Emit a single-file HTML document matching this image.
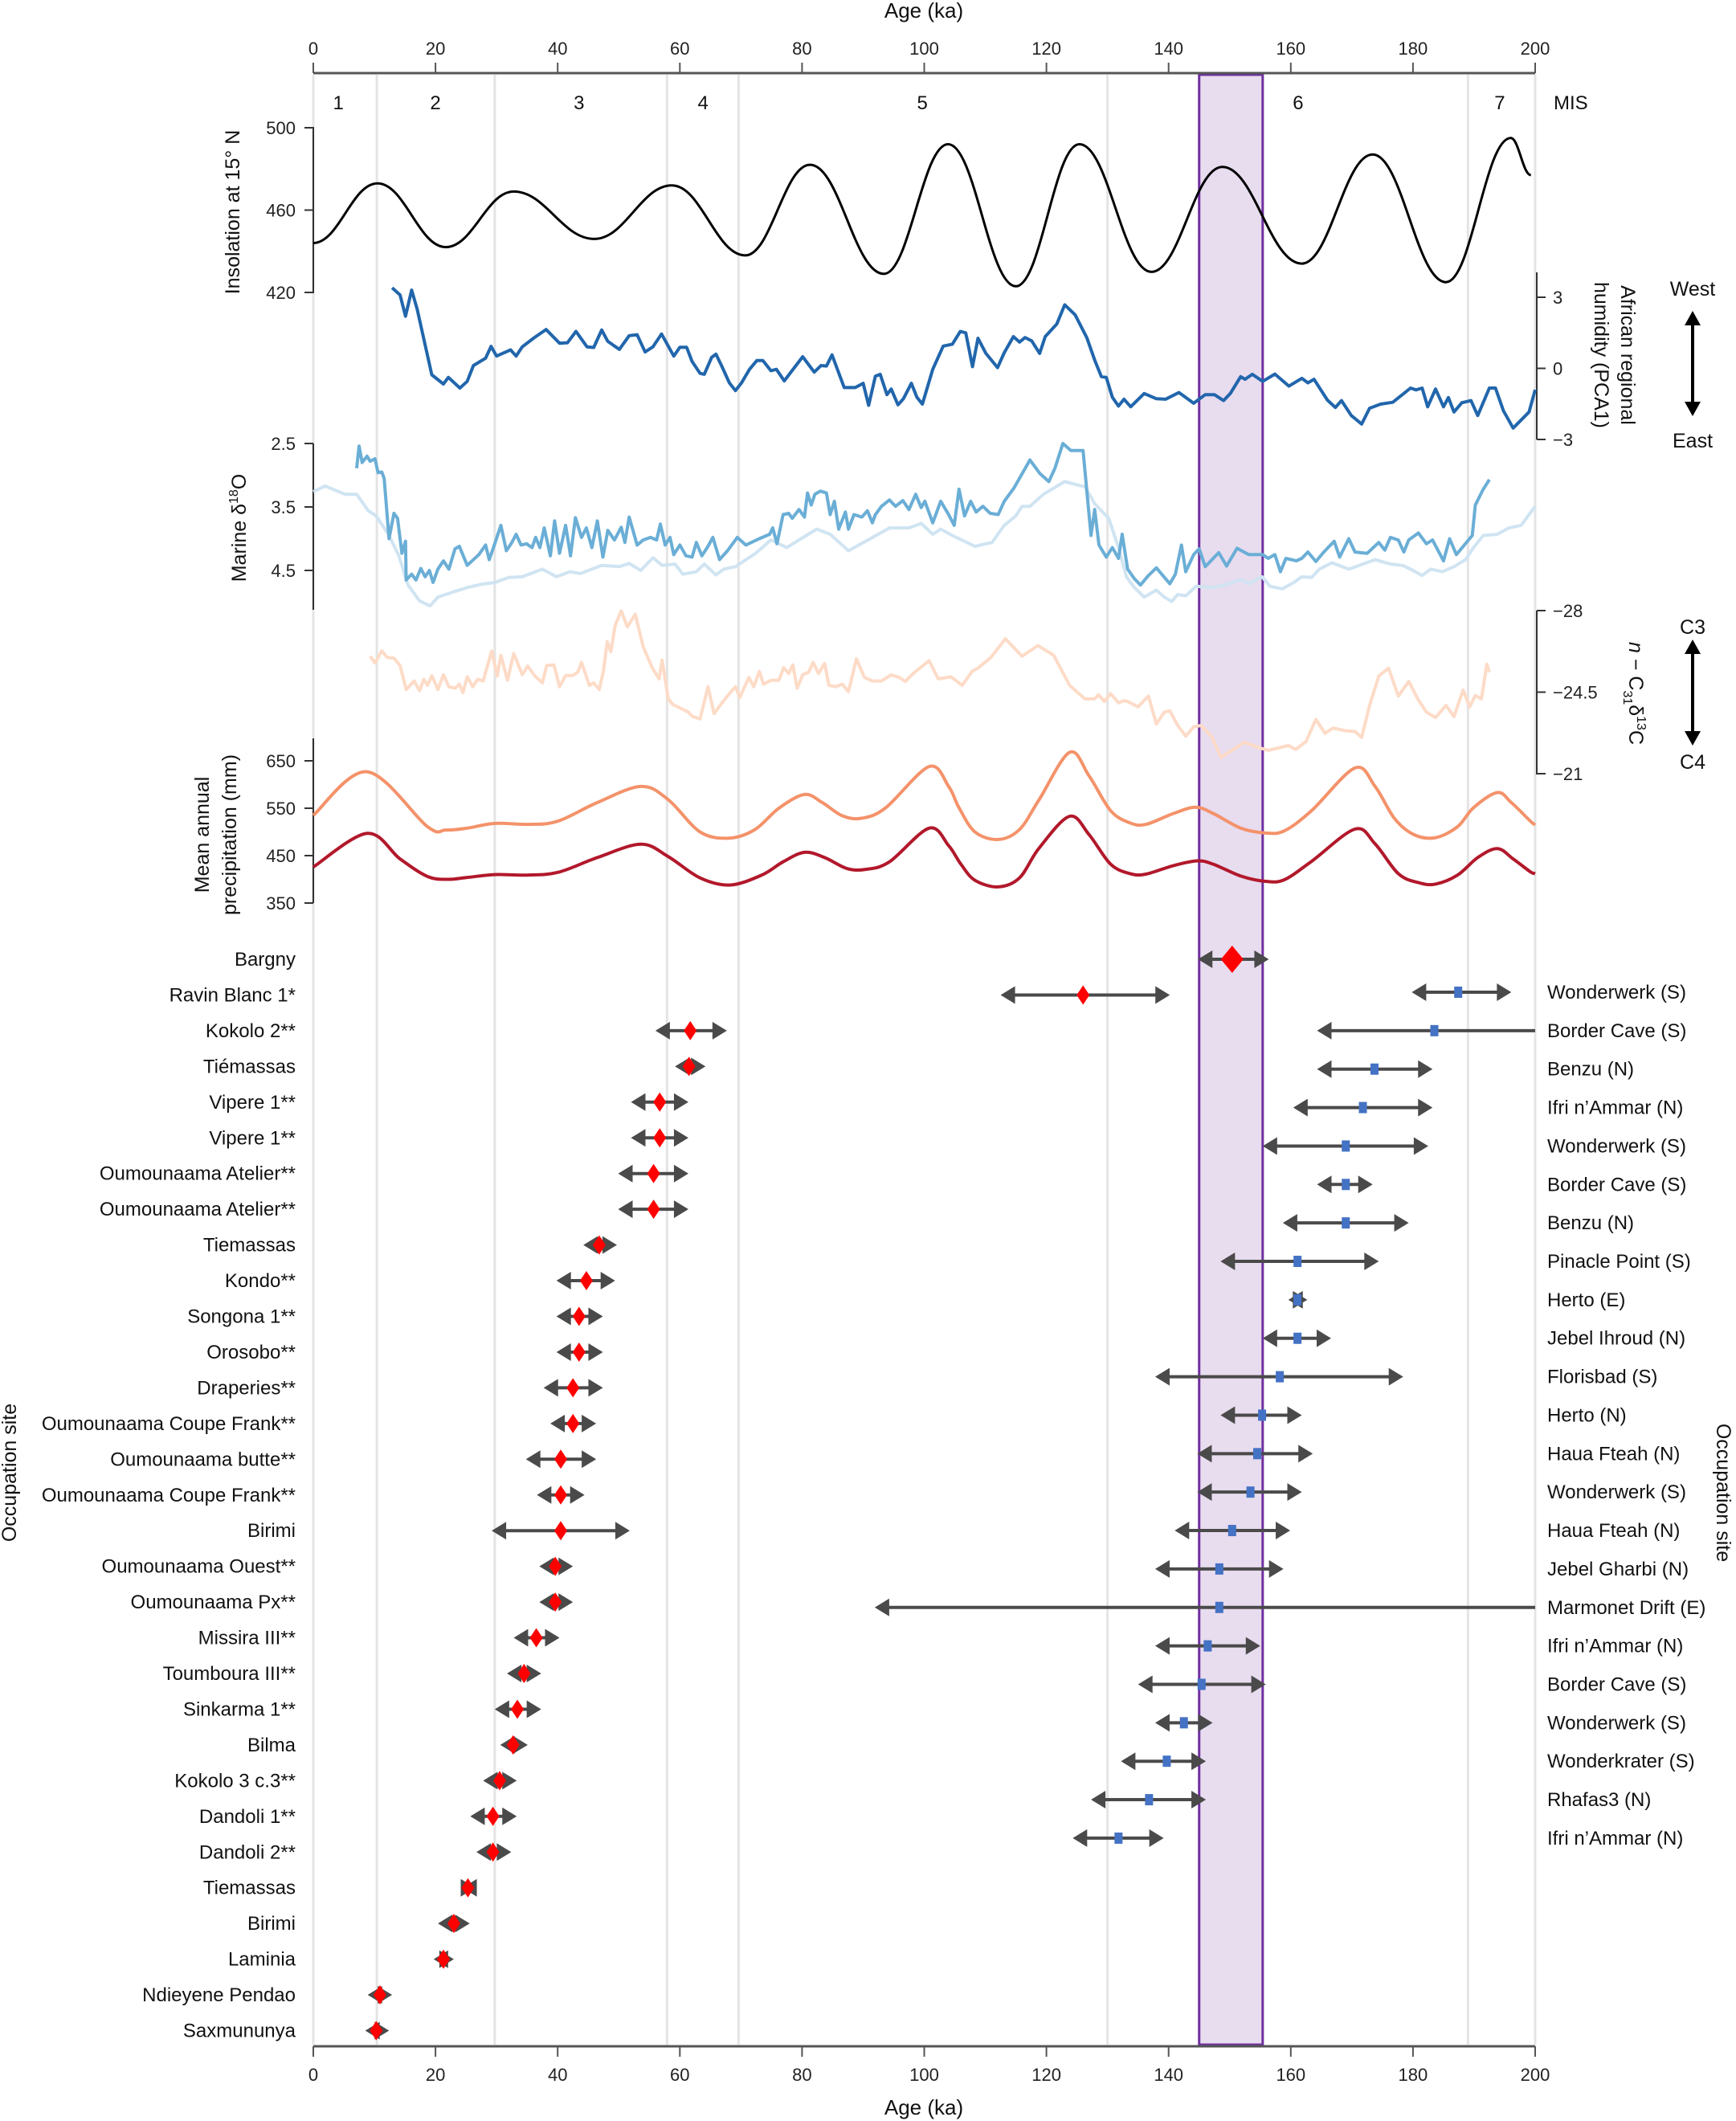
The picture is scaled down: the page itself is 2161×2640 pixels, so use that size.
<!DOCTYPE html>
<html><head><meta charset="utf-8">
<style>
html,body{margin:0;padding:0;background:#fff;}
svg{display:block;font-family:"Liberation Sans",sans-serif;}
.tk{font-size:22px;fill:#222;}
.lab{font-size:24px;fill:#111;}
</style></head>
<body>
<svg id="chart" width="2161" height="2640" viewBox="0 0 2161 2640" xmlns="http://www.w3.org/2000/svg">
<g id="grid"></g>
<rect x="0" y="0" width="0" height="0" id="band" fill="#e8dcef" stroke="#7030a0" stroke-width="3"/>
<g id="axes"></g>
<g id="series"></g>
<g id="sites"></g>
<g id="texts">
<text x="1150" y="22" text-anchor="middle" font-size="26" fill="#111">Age (ka)</text>
<text x="1150" y="2632" text-anchor="middle" font-size="26" fill="#111">Age (ka)</text>
<text transform="translate(298,264) rotate(-90)" text-anchor="middle" font-size="25" fill="#111">Insolation at 15° N</text>
<text transform="translate(306,657) rotate(-90)" text-anchor="middle" font-size="25" fill="#111">Marine δ<tspan font-size="16" dy="-10">18</tspan><tspan dy="10">O</tspan></text>
<text transform="translate(260,1039) rotate(-90)" text-anchor="middle" font-size="25" fill="#111">Mean annual</text>
<text transform="translate(294,1039) rotate(-90)" text-anchor="middle" font-size="25" fill="#111">precipitation (mm)</text>
<text transform="translate(2018,442) rotate(90)" text-anchor="middle" font-size="25" fill="#111">African regional</text>
<text transform="translate(1985,442) rotate(90)" text-anchor="middle" font-size="25" fill="#111">humidity (PCA1)</text>
<text transform="translate(2028,863) rotate(90)" text-anchor="middle" font-size="25" fill="#111"><tspan font-style="italic">n</tspan> − C<tspan font-size="16" dy="7">31</tspan><tspan dy="-7">δ</tspan><tspan font-size="16" dy="-10">13</tspan><tspan dy="10">C</tspan></text>
<text transform="translate(20,1833) rotate(-90)" text-anchor="middle" font-size="25" fill="#111">Occupation site</text>
<text transform="translate(2137,1858) rotate(90)" text-anchor="middle" font-size="25" fill="#111">Occupation site</text>
<text x="2107" y="368" text-anchor="middle" font-size="25" fill="#111">West</text>
<text x="2107" y="557" text-anchor="middle" font-size="25" fill="#111">East</text>
<text x="2107" y="789" text-anchor="middle" font-size="25" fill="#111">C3</text>
<text x="2107" y="957" text-anchor="middle" font-size="25" fill="#111">C4</text>
<g fill="#000" stroke="#000">
<line x1="2107" y1="400" x2="2107" y2="506" stroke-width="4"/>
<polygon points="2107,387 2097,405 2117,405" stroke="none"/>
<polygon points="2107,518 2097,500 2117,500" stroke="none"/>
</g>
<g fill="#000" stroke="#000">
<line x1="2107" y1="808" x2="2107" y2="916" stroke-width="4"/>
<polygon points="2107,796 2097,814 2117,814" stroke="none"/>
<polygon points="2107,928 2097,910 2117,910" stroke="none"/>
</g>
</g>
</svg>
<script>
// ---------- data ----------
const misBounds=[10.4,29.7,57.9,69.6,130,189];
const misLabels=["1","2","3","4","5","6","7"];
const misLabelAges=[4.1,20,43.5,63.8,99.7,161.2,194.2];
const bandRange=[145,155.4];
const xTicks=[0,20,40,60,80,100,120,140,160,180,200];
const insolTicks=[500,460,420];
const humTicks=[3,0,-3];
const marineTicks=[2.5,3.5,4.5];
const c13Ticks=[-28,-24.5,-21];
const precipTicks=[650,550,450,350];

const insolAge=[0,10.5,21.7,32.8,46,58.7,70.7,81.3,93.4,103.9,115,125.4,137.2,148.8,161.8,173.4,185.4,196,199.3];
const insolVal=[444,473,442,469,446,472,438,482,429,492,423,492,430,481,434,487,425,495,477];

const humAge=[12.9,14.2,15.1,16.1,17,19.4,21.3,22.1,24,25.2,26.2,28.2,29.1,30,32.3,33.2,34.2,36.2,38.1,40.3,41.6,43,44.8,45.9,47.2,48.2,50.1,51.7,53,54.3,55.6,57,59,60,61.1,62,63.3,64,65.2,65.9,66.9,68.1,69.1,70.1,71.4,72.6,73.6,74.9,75.8,77.1,80.1,82,83.1,84,84.9,86.9,88.7,90,90.9,92,92.8,93.9,94.6,95.7,96.6,97.9,98.8,99.7,101.4,103.1,104.6,105.9,106.8,107.9,108.8,110.1,112,113.1,114.6,115.6,116.5,117.6,118.9,119.8,121.7,123,124.7,126.6,127.9,129,129.8,130.8,131.8,132.7,133.8,136,138,139.5,141.7,144.1,146,147.5,149,150.1,151.8,152.5,153.7,155.4,157.4,159.7,161.8,162.8,163.8,166,167.3,168.3,169.9,171.6,172.9,174.7,176.7,179.6,180.5,181.5,182.4,183.7,185,185.8,186.7,188,189.5,190.6,192.5,193.5,194.8,196.4,199,200];
const humVal=[3.4,3.1,2.2,3.3,2.5,-0.27,-0.66,-0.38,-0.83,-0.55,0.12,0.43,0.93,0.52,0.78,0.52,0.91,1.3,1.64,1.06,1.08,1.56,0.91,0.88,1.62,1.14,0.8,1.38,1.42,0.69,0.91,1.45,0.52,0.89,0.89,0.29,-0.21,-0.25,0.46,0.6,0.07,-0.61,-0.94,-0.61,-0.04,0.33,0.33,-0.1,-0.04,-0.53,0.49,-0.16,0.12,0.1,0.57,-0.81,-0.81,-0.63,-1.56,-0.33,-0.25,-1.11,-0.87,-1.54,-1.28,-0.63,-1.22,-1.51,-0.04,0.94,1.02,1.56,1.5,0.07,1.27,0.63,0.03,0.66,1.34,1.11,1.3,1.16,0.63,1.34,1.87,2.68,2.26,1.3,0.35,-0.35,-0.38,-1.22,-1.59,-1.3,-1.62,-1.06,-1.28,-1.3,-1.02,-1.47,-1.11,-1.11,-1.36,-1.06,-0.35,-0.46,-0.25,-0.55,-0.24,-0.75,-0.42,-0.61,-0.46,-1.34,-1.65,-1.36,-1.99,-2.35,-1.68,-1.51,-1.43,-0.83,-0.91,-0.83,-1.62,-0.87,-1.62,-1.23,-1.84,-1.45,-1.36,-1.99,-0.83,-0.83,-1.79,-2.52,-1.84,-0.9];

const marAge=[7.1,7.5,8,8.8,9.3,10.1,10.6,11.2,11.6,12.4,13.2,13.8,14.5,15.1,15.2,16.1,16.8,17.6,18.3,19,19.6,20.4,21.3,22.2,23.2,23.9,25.2,27.1,28.2,28.8,29.7,30.7,31.6,32.5,33.2,34,34.9,35.8,36.4,37.1,37.8,38.8,39.5,40.3,41.3,42.1,42.9,43.9,44.7,45.6,46.5,47.4,48.2,49.3,50.4,51,51.7,53,54,55.2,56.2,56.8,57.6,58.4,59,60,61,62,62.7,63.6,64.6,65.4,66.5,67.8,69.4,70.8,73,74.7,75.2,75.9,76.9,77.8,78.4,79.5,80.4,80.9,81.5,82.1,83,84,84.6,85.3,86,87.1,87.6,88.5,89.8,90.7,91.5,92,93,94.3,95.3,96.5,97.5,98.6,99.5,100.1,101.4,102.7,104,104.9,105.7,106.6,107.6,108.5,109.6,110.8,112.1,113.1,114.7,117.3,118.9,120.4,121.4,122.7,124,126,127.3,127.9,128.6,129.8,130.8,131.8,132.4,133.3,134.4,135.4,136.7,138,140.2,141.1,142.1,142.8,144.1,145,146,148.2,149.5,151.2,153.1,155.4,156.3,157.4,158.3,159.2,160.9,161.8,162.8,164.1,165.4,167.1,168,169.5,170.5,172.5,174.4,175.4,176.3,177.6,178.5,179.3,180.9,182.2,183.2,185,186,187.1,189.7,190.2,191.5,192.5];
const marVal=[2.89,2.54,2.8,2.7,2.78,2.74,2.96,2.95,3.05,4.0,3.6,3.68,4.23,4.04,4.65,4.56,4.65,4.47,4.6,4.5,4.69,4.48,4.35,4.48,4.16,4.12,4.42,4.25,4.1,4.33,4.08,3.79,4.19,4.06,3.93,4.1,4.08,4.14,3.98,4.14,3.83,4.27,3.72,4.23,3.79,4.27,3.67,3.98,3.83,4.14,3.72,4.29,3.87,4.02,3.82,4.06,3.66,4.1,4.02,3.98,4.02,3.77,4.1,3.98,4.25,4.1,4.27,4.29,4.06,4.27,4.12,3.98,4.33,4.19,3.98,4.1,4.0,3.93,3.83,4.08,3.62,3.6,3.68,3.54,3.66,3.28,3.47,3.3,3.25,3.28,3.62,3.41,3.85,3.58,3.85,3.62,3.66,3.56,3.75,3.62,3.49,3.39,3.49,3.4,3.54,3.3,3.51,3.41,3.75,3.41,3.62,3.79,3.22,3.64,3.41,3.58,3.49,3.6,3.62,3.41,3.2,2.76,2.97,3.1,2.89,2.5,2.61,2.61,3.95,3.54,4.1,4.29,4.14,4.31,3.93,4.48,4.63,4.73,4.58,4.46,4.71,4.56,4.1,4.52,4.25,4.16,4.44,4.22,4.43,4.15,4.25,4.25,4.31,4.25,4.52,4.31,4.35,4.31,4.21,4.36,4.21,4.04,4.29,4.0,4.21,4.23,4.06,4.18,3.98,4.02,4.21,4.02,3.91,4.08,4.02,4.35,4.0,4.25,3.95,3.47,3.22,3.07];

const marSmAge=[0,1.9,5.2,7.1,9,10.3,12.3,14,15.5,17.4,19.1,20.4,22.6,25.2,27.4,29.7,32,34.2,37.5,39.8,42,43.7,47.2,50.1,51.7,53.6,55.6,57.1,59.2,60.5,62.7,64,65.9,67.2,69.1,72.4,74.9,77.5,79.5,82.4,84.6,87.6,90.4,94.3,97.5,99.5,101.4,102.7,104.6,108.3,111.1,113.1,115,116,117.3,119.5,123,125.3,126.3,127.9,130.2,131.8,133.1,134.4,136,138,139.3,140.5,141.5,142.8,144.5,147.3,149.2,151.8,153.1,155.3,156.6,158.6,160.5,161.8,163.4,164.7,166.7,169.5,171.8,173.8,176.3,178.3,179.6,181.5,182.9,184.8,186.7,188.6,189.9,191.5,193.8,195.7,197.7,200];
const marSmVal=[3.26,3.17,3.3,3.3,3.56,3.64,3.93,4.27,4.73,4.98,5.06,4.92,4.85,4.77,4.72,4.69,4.61,4.6,4.48,4.6,4.52,4.55,4.42,4.44,4.39,4.5,4.3,4.42,4.4,4.56,4.52,4.4,4.57,4.48,4.44,4.23,4.02,4.14,4.02,3.85,3.93,4.19,4.04,3.83,3.83,3.76,3.93,3.85,3.95,4.12,4.06,3.79,3.64,3.49,3.49,3.3,3.1,3.16,3.18,3.45,3.68,4.14,4.6,4.77,4.92,4.81,4.92,4.99,4.88,4.9,4.75,4.77,4.73,4.64,4.71,4.6,4.75,4.79,4.69,4.6,4.61,4.48,4.38,4.48,4.4,4.33,4.4,4.42,4.48,4.58,4.48,4.52,4.44,4.33,4.14,3.95,3.93,3.83,3.79,3.49];

const c13Age=[9.3,10.1,11.2,12.1,13.2,14.2,15.2,16.5,17.4,18.1,18.7,19.4,20.4,21.3,22.2,23.2,23.9,24.5,25.2,26.1,26.9,27.8,29.2,30.1,30.7,31.8,32.8,34.2,35.1,36.2,37.5,38.2,39.4,40.3,41.3,42.4,43.3,43.9,45.2,45.9,46.8,47.5,48.1,48.7,49.4,50.4,51.4,52.7,54,55.5,56.6,57.1,58.1,58.8,60.1,61.4,62,63.3,64.6,65.6,66.9,68.5,69.1,69.8,71.3,72.1,73,73.7,74.9,76.2,77,77.8,78.5,79.2,80.1,81.1,81.8,82.7,83.7,84.4,85.5,86.6,87.6,88.9,90.2,91.5,93,94.6,95.9,96.9,98.2,100.8,102.3,104.4,106.2,107.9,108.8,110.9,113.3,116,118.6,121.2,123.8,126.3,127.9,128.5,129.5,130.5,131.8,132.7,133.3,135,136.7,138,139.3,140.2,141.5,142.8,144.1,145.3,147,148.6,152.4,154.4,156.3,159.6,160.8,162.5,164.1,165.6,166.9,169,170.5,171.6,172.9,174.4,176,177.6,179.3,180.9,182.2,183.7,185.4,186.7,188.2,189.3,190.2,191.2,192.1,192.5];
const c13Val=[-26.04,-25.76,-26.27,-25.99,-25.96,-25.64,-24.61,-24.98,-24.56,-25.05,-24.79,-25.21,-24.61,-25.25,-24.73,-24.67,-24.84,-24.48,-25.16,-24.73,-25.05,-24.98,-26.27,-25.19,-26.08,-25.01,-26.16,-25.25,-25.62,-25.21,-24.9,-25.64,-25.67,-24.73,-25.21,-25.21,-25.36,-25.78,-24.79,-24.9,-24.61,-25.41,-26.67,-26.24,-27.36,-27.99,-27.3,-27.84,-26.44,-25.53,-25.07,-25.87,-24.21,-23.98,-23.81,-23.64,-23.47,-23.35,-24.73,-23.58,-24.04,-24.56,-24.73,-24.27,-25.13,-24.73,-25.39,-24.84,-25.01,-25.01,-25.55,-25.3,-25.67,-24.67,-25.24,-25.36,-25.78,-25.3,-25.73,-24.79,-24.73,-24.84,-24.52,-25.93,-25.13,-24.98,-24.98,-25.24,-25.13,-24.96,-25.3,-25.85,-25.07,-25.16,-24.79,-25.41,-25.53,-25.99,-26.79,-26.04,-26.5,-26.08,-24.79,-24.21,-24.21,-24.39,-24.1,-24.44,-24.04,-24.13,-24.1,-23.87,-24.33,-23.13,-23.64,-23.7,-23.07,-22.61,-23.01,-23.07,-22.61,-21.7,-22.35,-22.15,-22.0,-22.21,-22.04,-22.38,-23.33,-22.73,-22.96,-22.84,-22.81,-22.56,-23.93,-25.19,-25.53,-24.33,-24.96,-24.16,-23.64,-23.41,-23.93,-23.45,-24.59,-23.87,-24.36,-24.21,-25.7,-25.36];

const precAAge=[0,8.8,18.7,21.7,25.2,29.7,35.5,40.1,46.5,53.6,58.1,63.3,68.1,72.3,76.2,80.4,83.3,86.6,89.8,93.7,100.8,104,105.7,108.3,112.1,115.6,118.8,123.8,127,130.5,133.7,136.3,140.8,144.4,147.3,151.8,155.7,158.9,163.4,170.5,173.8,177,180.2,183.7,187.3,189.9,193.8,196.1,199.2,200];
const precAVal=[535,627,511,504,508,518,516,523,562,596,568,500,487,505,550,579,562,534,529,551,638,596,551,500,484,505,568,668,618,545,519,516,539,552,539,508,498,502,545,635,596,528,494,488,511,551,583,562,523,515];
const precBAge=[0,8.8,14.2,18.7,22,25.2,29.7,34.9,40.1,46.5,53.6,58.1,63.3,68.2,73.4,76.9,80.4,83.7,87.3,90.4,94.3,100.8,104,106,108.3,112.1,115.6,118.8,123.8,127,130.5,133.7,136.3,140.8,144.7,147.3,151.8,155.7,158.9,163.4,170.5,173.8,177.6,180.9,183.7,187.3,190.6,193.8,196.4,199.2,200];
const precBVal=[426,497,443,406,400,404,410,409,415,446,474,448,403,388,409,437,457,446,423,421,437,508,471,432,398,384,403,466,533,494,432,412,411,429,439,432,407,396,399,438,506,475,412,393,390,409,446,465,443,416,412];

const leftNames=["Bargny","Ravin Blanc 1*","Kokolo 2**","Tiémassas","Vipere 1**","Vipere 1**","Oumounaama Atelier**","Oumounaama Atelier**","Tiemassas","Kondo**","Songona 1**","Orosobo**","Draperies**","Oumounaama Coupe Frank**","Oumounaama butte**","Oumounaama Coupe Frank**","Birimi","Oumounaama Ouest**","Oumounaama Px**","Missira III**","Toumboura III**","Sinkarma 1**","Bilma","Kokolo 3 c.3**","Dandoli 1**","Dandoli 2**","Tiemassas","Birimi","Laminia","Ndieyene Pendao","Saxmununya"];
const leftAge=[150.4,126,61.7,61.5,56.7,56.7,55.7,55.7,46.8,44.7,43.5,43.5,42.5,42.5,40.5,40.5,40.5,39.6,39.6,36.5,34.5,33.4,32.7,30.5,29.4,29.4,25.3,23,21.3,10.9,10.3];
const leftLo=[144.8,112.5,56,59.2,52,52,49.9,49.9,44.2,39.8,39.8,39.8,37.7,38.8,34.8,36.6,29.2,37,37,32.8,31.7,29.7,30.6,27.8,25.7,26.7,24.4,20.4,19.7,8.9,8.5];
const leftHi=[156.4,140.2,67.7,64.2,61.4,61.4,61.4,61.4,49.7,49.4,47.4,47.4,47.4,46.3,46.3,44.4,51.8,42.5,42.5,40.3,37.3,37.3,35.1,33.3,33.3,32.4,26.5,25.6,23,12.9,12.4];

const rightNames=["Wonderwerk (S)","Border Cave (S)","Benzu (N)","Ifri n’Ammar (N)","Wonderwerk (S)","Border Cave (S)","Benzu (N)","Pinacle Point (S)","Herto (E)","Jebel Ihroud (N)","Florisbad (S)","Herto (N)","Haua Fteah (N)","Wonderwerk (S)","Haua Fteah (N)","Jebel Gharbi (N)","Marmonet Drift (E)","Ifri n’Ammar (N)","Border Cave (S)","Wonderwerk (S)","Wonderkrater (S)","Rhafas3 (N)","Ifri n’Ammar (N)"];
const rightAge=[187.4,183.5,173.7,171.8,169,169,169,161.1,161.1,161.1,158.2,155.3,154.5,153.4,150.4,148.3,148.3,146.4,145.4,142.5,139.7,136.8,131.8];
const rightLo=[179.8,164.3,164.3,160.4,155.4,164.3,158.7,148.5,159.6,155.4,137.8,148.5,144.7,144.7,141,137.8,91.9,137.8,135,137.8,132.2,127.3,124.3];
const rightHi=[196.1,220,183.2,183.2,182.5,173.4,179.3,174.4,162.7,166.6,178.4,161.8,163.6,161.8,159.9,158.8,220,155,155.9,147.2,146.1,146.1,139.2];

// ---------- scales ----------
const X0=390,X1=1911;
const x=a=>X0+(a/200)*(X1-X0);
const lin=(d0,d1,r0,r1)=>v=>r0+(v-d0)/(d1-d0)*(r1-r0);
const yIns=lin(500,420,159,364);
const yHum=lin(3,-3,370,547);
const yMar=lin(2.5,4.5,552,710);
const yC13=lin(-28,-21,760,963);
const yPre=lin(650,350,947,1124);
const TOP=91,BOT=2547;
const NS="http://www.w3.org/2000/svg";
function mk(tag,attrs,parent){const e=document.createElementNS(NS,tag);for(const k in attrs)e.setAttribute(k,attrs[k]);parent.appendChild(e);return e;}
const G=id=>document.getElementById(id);

// grid
const grid=G('grid');
misBounds.forEach(a=>{
  const l=mk('line',{x1:x(a),x2:x(a),y1:TOP+2,y2:BOT-2,stroke:'#e4e4e4','stroke-width':3},grid);
  
  
});
[0,200].forEach(a=>{
  const l=mk('line',{x1:x(a),x2:x(a),y1:TOP+2,y2:BOT-2,stroke:'#e4e4e4','stroke-width':3},grid);
  
  
});
const band=G('band');
band.setAttribute('x',x(bandRange[0]));band.setAttribute('width',x(bandRange[1])-x(bandRange[0]));
band.setAttribute('y',TOP+2);band.setAttribute('height',BOT-TOP-4);

// axes
const ax=G('axes');
function hAxis(y,dir,labY,name){
  const l=mk('line',{x1:X0,x2:X1,y1:y,y2:y,stroke:'#555','stroke-width':3},ax);
  
  
  xTicks.forEach(t=>{
    mk('line',{x1:x(t),x2:x(t),y1:y,y2:y+dir*13,stroke:'#555','stroke-width':2},ax);
    const tx=mk('text',{x:x(t),y:labY,'text-anchor':'middle',class:'tk'},ax);
    tx.textContent=t;
    
    
  });
}
hAxis(TOP,-1,68,'top-x-axis');
hAxis(BOT,1,2590,'bottom-x-axis');
misLabels.forEach((m,i)=>{
  const t=mk('text',{x:x(misLabelAges[i]),y:136,'text-anchor':'middle',class:'lab'},ax);
  t.textContent=m;
  
  
});
const mis=mk('text',{x:1934,y:136,class:'lab'},ax);mis.textContent='MIS';



function vAxis(xp,side,y0,y1,ticks,sc,name){
  const l=mk('line',{x1:xp,x2:xp,y1:y0,y2:y1,stroke:'#333','stroke-width':2},ax);
  
  
  ticks.forEach(t=>{
    const yy=sc(t);
    mk('line',{x1:xp,x2:xp+side*11,y1:yy,y2:yy,stroke:'#333','stroke-width':2},ax);
    const tx=mk('text',{x:side<0?xp-22:xp+20,y:yy+8,'text-anchor':side<0?'end':'start',class:'tk'},ax);
    tx.textContent=(t<0?'−'+Math.abs(t):t);
    
    
  });
}
vAxis(X0,-1,158,365,insolTicks,yIns,'insolation-axis');
vAxis(X0,-1,552,759,marineTicks,yMar,'marine-axis');
vAxis(X0,-1,919,1124,precipTicks,yPre,'precip-axis');
vAxis(1913,1,339,547,humTicks,yHum,'humidity-axis');
vAxis(1913,1,760,964,c13Ticks,yC13,'c13-axis');

// series
const S=G('series');
function poly(ages,vals,sc,color,w,name){
  const d=ages.map((a,i)=>(i?'L':'M')+x(Math.min(a,200)).toFixed(1)+','+sc(vals[i]).toFixed(1)).join(' ');
  const p=mk('path',{d:d,fill:'none',stroke:color,'stroke-width':w,'stroke-linejoin':'round'},S);
  
  
}
function catmull(ages,vals,sc,color,w,name){
  const P=ages.map((a,i)=>[x(a),sc(vals[i])]);
  let d='M'+P[0][0]+','+P[0][1];
  for(let i=0;i<P.length-1;i++){
    const p0=P[Math.max(0,i-1)],p1=P[i],p2=P[i+1],p3=P[Math.min(P.length-1,i+2)];
    const c1=[p1[0]+(p2[0]-p0[0])/6,p1[1]+(p2[1]-p0[1])/6];
    const c2=[p2[0]-(p3[0]-p1[0])/6,p2[1]-(p3[1]-p1[1])/6];
    d+=' C'+c1[0].toFixed(1)+','+c1[1].toFixed(1)+' '+c2[0].toFixed(1)+','+c2[1].toFixed(1)+' '+p2[0].toFixed(1)+','+p2[1].toFixed(1);
  }
  const p=mk('path',{d:d,fill:'none',stroke:color,'stroke-width':w},S);
  
  
}
function flatSpline(ages,vals,sc,color,w,name){
  const P=ages.map((a,i)=>[x(a),sc(vals[i])]);
  let d='M'+P[0][0]+','+P[0][1];
  for(let i=0;i<P.length-1;i++){
    const p1=P[i],p2=P[i+1],dx=(p2[0]-p1[0])*0.4;
    d+=' C'+(p1[0]+dx).toFixed(1)+','+p1[1].toFixed(1)+' '+(p2[0]-dx).toFixed(1)+','+p2[1].toFixed(1)+' '+p2[0].toFixed(1)+','+p2[1].toFixed(1);
  }
  const p=mk('path',{d:d,fill:'none',stroke:color,'stroke-width':w},S);
  
  
}
flatSpline(insolAge,insolVal,yIns,'#000',3,'insolation-line');
poly(humAge,humVal,yHum,'#2166ac',4,'humidity-line');
poly(marSmAge,marSmVal,yMar,'#d0e4f2',4,'marine-smoothed-line');
poly(marAge,marVal,yMar,'#6aaed6',4,'marine-d18o-line');
poly(c13Age,c13Val,yC13,'#fddbc7',4,'c13-line');
catmull(precAAge,precAVal,yPre,'#f4926a',4,'precip-upper-line');
catmull(precBAge,precBVal,yPre,'#b2182b',4,'precip-lower-line');

// sites
const ST=G('sites');
function interval(lo,hi,y,name){
  const g=mk('g',{},ST);
  
  
  const x1=x(lo),x2=x(Math.min(hi,200)),hl=18,hh=11;
  mk('line',{x1:x1+hl*0.5,x2:hi>200?x2:x2-hl*0.5,y1:y,y2:y,stroke:'#4a4a4a','stroke-width':4},g);
  mk('polygon',{points:`${x1},${y} ${x1+hl},${y-hh} ${x1+hl},${y+hh}`,fill:'#4a4a4a'},g);
  if(hi<=200) mk('polygon',{points:`${x2},${y} ${x2-hl},${y-hh} ${x2-hl},${y+hh}`,fill:'#4a4a4a'},g);
}
leftNames.forEach((n,i)=>{
  const y=1194+i*44.45;
  const t=mk('text',{x:368,y:y+8,'text-anchor':'end',class:'lab'},ST);
  t.textContent=n;
  
  
  interval(leftLo[i],leftHi[i],y,'left-site');
  const big=i===0;const w=big?14:8,h=big?17:12;
  const cx=x(leftAge[i]);
  const dm=mk('polygon',{points:`${cx},${y-h} ${cx+w},${y} ${cx},${y+h} ${cx-w},${y}`,fill:'#ff0000'},ST);
  
  
});
rightNames.forEach((n,i)=>{
  const y=1235+i*47.86;
  const t=mk('text',{x:1926,y:y+8,class:'lab'},ST);
  t.textContent=n;
  
  
  interval(rightLo[i],rightHi[i],y,'right-site');
  const cx=x(rightAge[i]);
  const sq=mk('rect',{x:cx-5,y:y-7,width:10,height:14,fill:'#4472c4'},ST);
  
  
});
</script>
</body></html>
